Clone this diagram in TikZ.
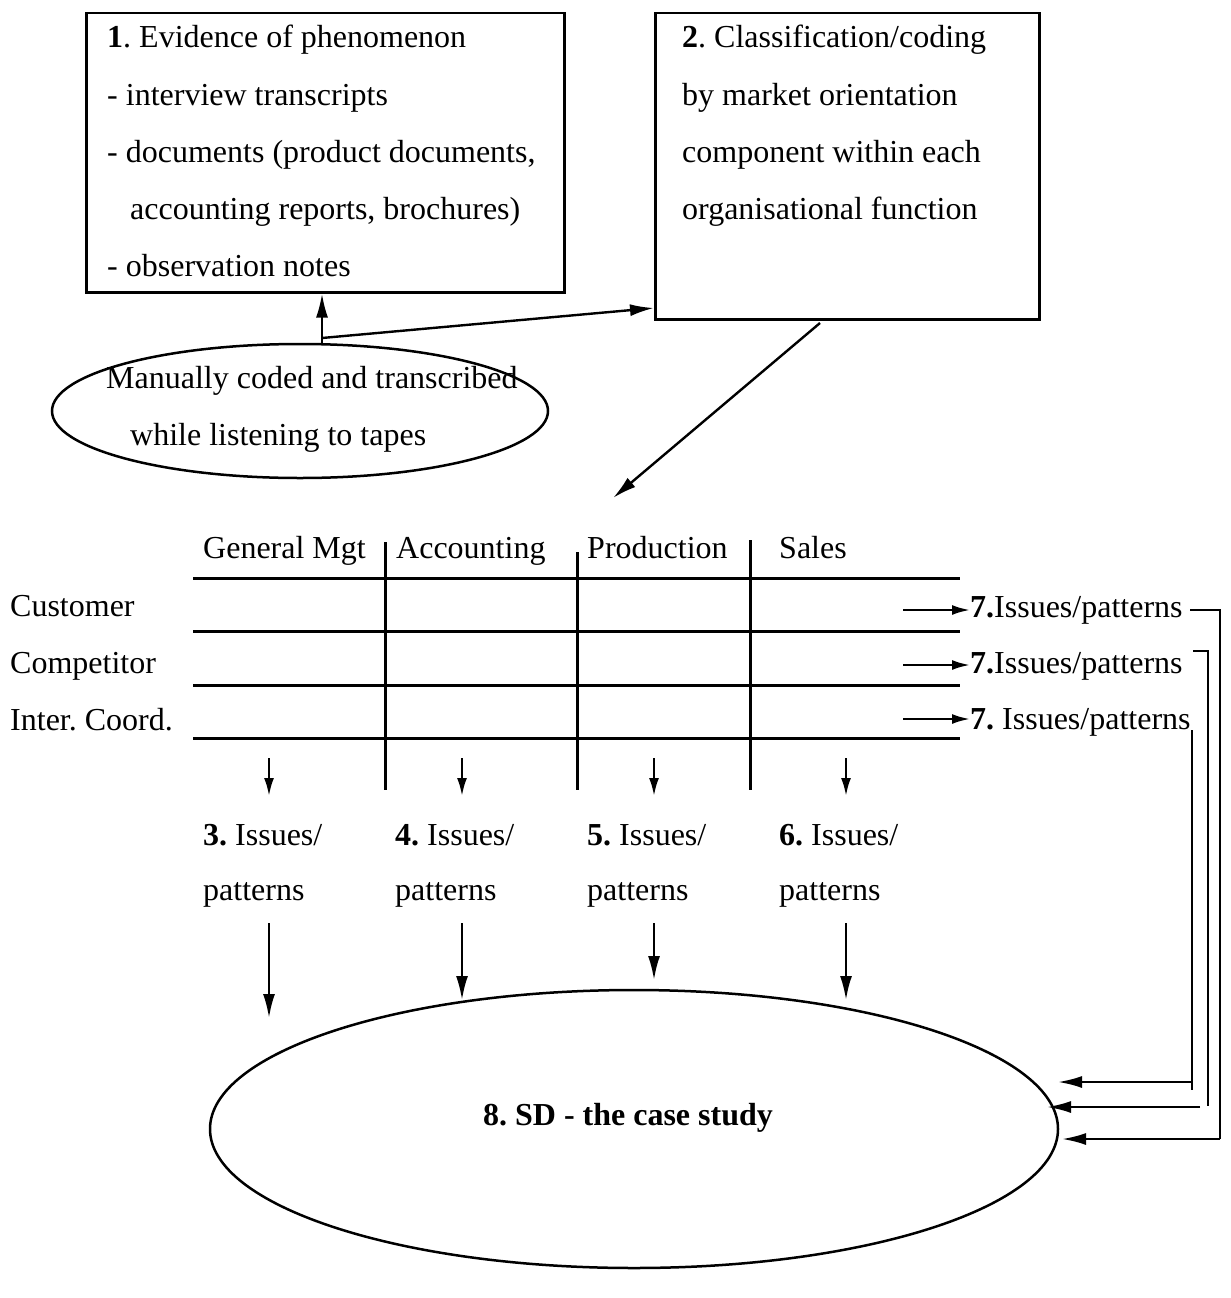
\documentclass[tikz,border=0pt]{standalone}
\usepackage{fontspec}
\setmainfont{Liberation Serif}
\usetikzlibrary{arrows.meta,shapes.geometric}
\frenchspacing

\tikzset{
  txt/.style={anchor=base west,inner sep=0pt,font=\fontsize{32}{38}\selectfont},
  frame/.style={draw,line width=2.5pt,inner sep=0pt,anchor=north west},
  oval/.style={draw,ellipse,line width=2.5pt,inner sep=0pt},
  link/.style={line width=2.4pt},
  flow/.style={line width=2.4pt,-{Latex[length=24pt,width=12pt]}},
  tick/.style={line width=2.4pt,-{Latex[length=18pt,width=10pt]}},
  grid/.style={line width=3pt},
}

\begin{document}
\begin{tikzpicture}[x=1pt,y=-1pt]
\useasboundingbox (0,0) rectangle (1231,1298);

% ---- step 1: evidence box ----
\node[frame,minimum width=478pt,minimum height=279pt] (box1) at (85,12) {};
\node[txt] (b1l1) at (107,48)  {\textbf{1}. Evidence of phenomenon};
\node[txt] (b1l2) at (107,105) {- interview transcripts};
\node[txt] (b1l3) at (107,162) {- documents (product documents,};
\node[txt] (b1l4) at (130,219) {accounting reports, brochures)};
\node[txt] (b1l5) at (107,276) {- observation notes};

% ---- step 2: classification box ----
\node[frame,minimum width=384pt,minimum height=306pt] (box2) at (654,12) {};
\node[txt] (b2l1) at (682,48)  {\textbf{2}. Classification/coding};
\node[txt] (b2l2) at (682,105) {by market orientation};
\node[txt] (b2l3) at (682,162) {component within each};
\node[txt] (b2l4) at (682,219) {organisational function};

% ---- coding ellipse ----
\node[oval,minimum width=496pt,minimum height=134pt] (tapes) at (300,411) {};
\node[txt] (t1) at (106,388) {Manually coded and transcribed};
\node[txt] (t2) at (130,445) {while listening to tapes};

\coordinate (fork) at (322,338);
\coordinate (toB2) at (654,308);
\draw[link] (fork) -- (fork |- tapes.north);
\draw[flow] (fork) -- (fork |- box1.south);
\draw[flow] (fork) -- (toB2);

\coordinate (b2out) at (820,323);
\coordinate (tabin) at (613,498);
\draw[flow] (b2out) -- (tabin);

% ---- classification grid ----
\node[txt] (hGM) at (203,558) {General Mgt};
\node[txt] (hAC) at (396,558) {Accounting};
\node[txt] (hPR) at (587,558) {Production};
\node[txt] (hSA) at (779,558) {Sales};

\node[txt] (rCu) at (10,616) {Customer};
\node[txt] (rCo) at (10,673) {Competitor};
\node[txt] (rIC) at (10,730) {Inter. Coord.};

\foreach \y in {578,631,685,738} \draw[grid] (193,\y) -- (960,\y);
\draw[grid] (385,542) -- (385,790);
\draw[grid] (577,552) -- (577,790);
\draw[grid] (750,540) -- (750,790);

\foreach \x in {269,462,654,846} \draw[tick] (\x,758) -- (\x,796);

% ---- steps 3 to 6 ----
\node[txt] (i3) at (203,845) {\textbf{3.} Issues/};
\node[txt] (p3) at (203,900) {patterns};
\node[txt] (i4) at (395,845) {\textbf{4.} Issues/};
\node[txt] (p4) at (395,900) {patterns};
\node[txt] (i5) at (587,845) {\textbf{5.} Issues/};
\node[txt] (p5) at (587,900) {patterns};
\node[txt] (i6) at (779,845) {\textbf{6.} Issues/};
\node[txt] (p6) at (779,900) {patterns};

% ---- step 7 ----
\node[txt] (s7a) at (970,617) {\textbf{7.}Issues/patterns};
\node[txt] (s7b) at (970,673) {\textbf{7.}Issues/patterns};
\node[txt] (s7c) at (970,729) {\textbf{7.} Issues/patterns};
\draw[tick] (903,610) -- (s7a.west |- 0,610);
\draw[tick] (903,665) -- (s7b.west |- 0,665);
\draw[tick] (903,719) -- (s7c.west |- 0,719);

% ---- step 8: case study ----
\node[oval,minimum width=848pt,minimum height=278pt] (case) at (634,1129) {};
\node[inner sep=0pt,font=\fontsize{32}{38}\selectfont\bfseries] (caseT) at (628,1118) {8. SD - the case study};

\draw[flow] (269,923) -- (269,1018);
\draw[flow] (462,923) -- (462,1000);
\draw[flow] (654,923) -- (654,980);
\draw[flow] (846,923) -- (846,1000);

% return paths from the step-7 rows
\coordinate (r1) at (1220,1139);
\coordinate (r2) at (1208,1107);
\coordinate (r3) at (1192,1082);
\draw[link] (1190,610) -- (1220,610) -- (r1);
\draw[flow] (r1) -- (1062,1139);
\draw[link] (1193,651) -- (1208,651) -- (1208,1106);
\draw[flow] (1200,1107) -- (1047,1107);
\draw[link] (1192,730) -- (1192,1090);
\draw[flow] (r3) -- (1058,1082);
\end{tikzpicture}
\end{document}
